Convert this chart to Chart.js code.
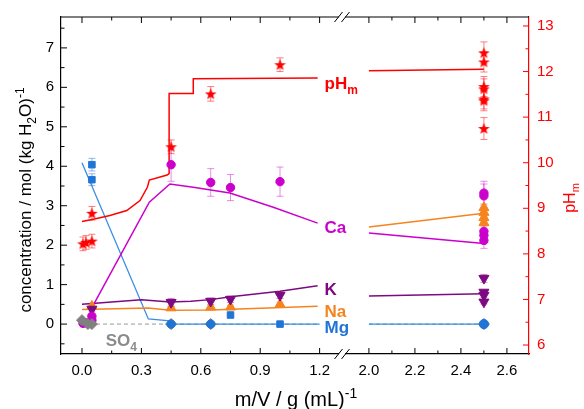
<!DOCTYPE html>
<html>
<head>
<meta charset="utf-8">
<script src="https://cdn.jsdelivr.net/npm/chart.js@4.4.0/dist/chart.umd.min.js"></script>
<style>
body { margin: 0; background: #fff; }
</style>
</head>
<body>
<canvas id="myChart" width="584" height="409"></canvas>
<script>
// tick labels
const xTicksLeft = [0.0, 0.3, 0.6, 0.9, 1.2];
const xTicksRight = [2.0, 2.2, 2.4, 2.6];
const concTicks = [0, 1, 2, 3, 4, 5, 6, 7];
const phTicks = [6, 7, 8, 9, 10, 11, 12, 13];

// measured pH_m (right axis)
const phX = [0.005, 0.02, 0.05, 0.05, 0.45, 0.65, 1.0];
const phY = [8.22, 8.25, 8.28, 8.89, 10.35, 11.51, 12.15];
const phErr = [0.15, 0.15, 0.15, 0.15, 0.15, 0.16, 0.15];
const phX2 = [2.5, 2.5, 2.5, 2.5, 2.5, 2.5, 2.5];
const phY2 = [12.41, 12.21, 11.67, 11.62, 11.40, 11.36, 10.75];
const phErr2 = [0.24, 0.22, 0.22, 0.22, 0.22, 0.22, 0.24];

// measured concentrations
const mgX = [0.05, 0.05, 0.75, 1.0];
const mgY = [4.04, 3.66, 0.23, 0.0];
const mgErr = [0.16, 0.15, 0.02, 0.02];
const mgCircX = [0.45, 0.65];
const mgCircY = [0.0, 0.0];
const mgX2 = [2.5];
const mgY2 = [0.0];

const caX = [0.005, 0.02, 0.05, 0.05, 0.45, 0.65, 0.75, 1.0];
const caY = [0.02, 0.03, 0.1, 0.2, 4.04, 3.59, 3.46, 3.61];
const caErr = [0.02, 0.02, 0.03, 0.03, 0.42, 0.35, 0.33, 0.37];
const caX2 = [2.5, 2.5, 2.5, 2.5, 2.5];
const caY2 = [3.32, 3.25, 2.35, 2.25, 2.12];
const caErr2 = [0.3, 0.3, 0.15, 0.15, 0.2];

const naX = [0.05, 0.45, 0.65, 0.75, 1.0];
const naY = [0.45, 0.41, 0.43, 0.43, 0.5];
const naErr = [0.05, 0.05, 0.05, 0.05, 0.06];
const naX2 = [2.5, 2.5, 2.5, 2.5];
const naY2 = [2.95, 2.83, 2.7, 2.57];
const naErr2 = [0.1, 0.1, 0.1, 0.1];

const kX = [0.05, 0.45, 0.65, 0.75, 1.0];
const kY = [0.38, 0.55, 0.58, 0.63, 0.73];
const kErr = [0.05, 0.1, 0.08, 0.08, 0.08];
const kX2 = [2.5, 2.5, 2.5, 2.5];
const kY2 = [1.16, 0.81, 0.73, 0.56];
const kErr2 = [0.1, 0.05, 0.05, 0.05];

const so4X = [0.0, 0.03, 0.05, 0.45, 0.65];
const so4Y = [0.1, 0.0, 0.0, 0.0, 0.0];
const so4X2 = [2.5];
const so4Y2 = [0.0];

// model curves
const phModelX = [0.0, 0.057, 0.141, 0.226, 0.293, 0.33, 0.34, 0.43, 0.44, 0.44, 0.562, 0.562, 1.19];
const phModelY = [8.71, 8.76, 8.84, 8.95, 9.17, 9.46, 9.62, 9.73, 9.76, 11.52, 11.52, 11.84, 11.86];
const phModelX2 = [2.0, 2.5];
const phModelY2 = [12.02, 12.05];

const mgModelX = [0.0, 0.335, 0.445, 0.47, 1.2];
const mgModelY = [4.09, 0.13, 0.08, 0.0, 0.0];
const caModelX = [0.057, 0.34, 0.444, 0.562, 0.747, 0.966, 1.19];
const caModelY = [0.48, 3.09, 3.55, 3.47, 3.32, 2.96, 2.56];
const naModelX = [0.0, 0.335, 0.445, 0.65, 1.19];
const naModelY = [0.37, 0.41, 0.35, 0.36, 0.45];
const kModelX = [0.0, 0.3, 0.445, 0.55, 0.65, 0.75, 1.0, 1.19];
const kModelY = [0.5, 0.62, 0.56, 0.58, 0.62, 0.69, 0.83, 0.97];
const so4ModelX = [0.0, 1.2];
const so4ModelY = [0.0, 0.0];

const modelX2 = [2.0, 2.5];
const mgModelY2 = [0.0, 0.0];
const caModelY2 = [2.31, 2.04];
const naModelY2 = [2.46, 2.81];
const kModelY2 = [0.71, 0.77];
const so4ModelY2 = [0.0, 0.0];

const FONT = "'Liberation Sans', Arial, sans-serif";
const RED = '#ff0000';
const BLUE = '#1f74d6';
const MAGENTA = '#cc00cc';
const ORANGE = '#f5841f';
const PURPLE = '#7d0a80';
const GREY = '#808080';

function pts(xs, ys) {
    return xs.map((x, i) => ({ x: x, y: ys[i] }));
}

// filled five point star marker
const star = document.createElement('canvas');
star.width = 13;
star.height = 13;
(function () {
    const c = star.getContext('2d');
    c.fillStyle = RED;
    c.beginPath();
    for (let i = 0; i < 10; i++) {
        const r = i % 2 === 0 ? 6.1 : 2.5;
        const a = -Math.PI / 2 + i * Math.PI / 5;
        c.lineTo(6.5 + r * Math.cos(a), 6.9 + r * Math.sin(a));
    }
    c.closePath();
    c.fill();
})();

function markers(label, xs, ys, xAxis, yAxis, style, color, radius, extra) {
    return Object.assign({
        label: label,
        data: pts(xs, ys),
        xAxisID: xAxis,
        yAxisID: yAxis,
        showLine: false,
        pointStyle: style,
        pointRadius: radius,
        backgroundColor: color,
        borderColor: color,
        borderWidth: 1
    }, extra || {});
}

function curve(label, xs, ys, xAxis, yAxis, color, extra) {
    return Object.assign({
        label: label,
        data: pts(xs, ys),
        xAxisID: xAxis,
        yAxisID: yAxis,
        showLine: true,
        pointRadius: 0,
        borderColor: color,
        borderWidth: 1.5,
        tension: 0
    }, extra || {});
}

const datasets = [
    markers('pH', phX, phY, 'x1', 'y2', star, RED, 6, { errors: phErr, errColor: 'rgba(255,0,0,0.5)' }),
    markers('pH2', phX2, phY2, 'x2', 'y2', star, RED, 6, { errors: phErr2, errColor: 'rgba(255,0,0,0.5)' }),
    markers('Mg', mgX, mgY, 'x1', 'y', 'rect', BLUE, 4.6, { errors: mgErr, errColor: 'rgba(31,116,214,0.5)' }),
    markers('Mg circ', mgCircX, mgCircY, 'x1', 'y', 'circle', BLUE, 4.2),
    markers('Mg2', mgX2, mgY2, 'x2', 'y', 'circle', BLUE, 4.6),
    markers('SO4', so4X, so4Y, 'x1', 'y', 'rectRot', GREY, 5.5),
    markers('SO4 2', so4X2, so4Y2, 'x2', 'y', 'rectRot', GREY, 5.5),
    markers('Ca', caX, caY, 'x1', 'y', 'circle', MAGENTA, 4.2, { errors: caErr, errColor: 'rgba(204,0,204,0.45)' }),
    markers('Ca2', caX2, caY2, 'x2', 'y', 'circle', MAGENTA, 4.2, { errors: caErr2, errColor: 'rgba(204,0,204,0.45)' }),
    markers('K', kX, kY, 'x1', 'y', 'triangle', PURPLE, 5.8, { rotation: 180, errors: kErr, errColor: 'rgba(125,10,128,0.45)' }),
    markers('K2', kX2, kY2, 'x2', 'y', 'triangle', PURPLE, 5.8, { rotation: 180, errors: kErr2, errColor: 'rgba(125,10,128,0.45)' }),
    markers('Na', naX, naY, 'x1', 'y', 'triangle', ORANGE, 5.8, { errors: naErr, errColor: 'rgba(245,132,31,0.45)' }),
    markers('Na2', naX2, naY2, 'x2', 'y', 'triangle', ORANGE, 5.8, { errors: naErr2, errColor: 'rgba(245,132,31,0.45)' }),
    curve('pH model', phModelX, phModelY, 'x1', 'y2', RED),
    curve('pH model 2', phModelX2, phModelY2, 'x2', 'y2', RED),
    curve('Ca model', caModelX, caModelY, 'x1', 'y', MAGENTA),
    curve('Ca model 2', modelX2, caModelY2, 'x2', 'y', MAGENTA),
    curve('K model', kModelX, kModelY, 'x1', 'y', PURPLE),
    curve('K model 2', modelX2, kModelY2, 'x2', 'y', PURPLE),
    curve('Na model', naModelX, naModelY, 'x1', 'y', ORANGE),
    curve('Na model 2', modelX2, naModelY2, 'x2', 'y', ORANGE),
    curve('Mg model', mgModelX, mgModelY, 'x1', 'y', '#3a8ee6', { borderWidth: 1.3 }),
    curve('Mg model 2', modelX2, mgModelY2, 'x2', 'y', '#3a8ee6', { borderWidth: 1.3 }),
    curve('SO4 model', so4ModelX, so4ModelY, 'x1', 'y', '#999999', { borderWidth: 1, borderDash: [4, 3] }),
    curve('SO4 model 2', modelX2, so4ModelY2, 'x2', 'y', '#999999', { borderWidth: 1, borderDash: [4, 3] })
];

// text with sub/superscripts: parts = [[text, 0 | -1 sub | 1 sup], ...]
function richText(ctx, parts, x, y, size, weight, align) {
    const fontFor = p => (weight || '') + ' ' + (p[1] === 0 ? size : Math.round(size * 0.68)) + 'px ' + FONT;
    let total = 0;
    parts.forEach(p => { ctx.font = fontFor(p); total += ctx.measureText(p[0]).width; });
    let cx = align === 'center' ? x - total / 2 : x;
    ctx.textAlign = 'left';
    ctx.textBaseline = 'alphabetic';
    parts.forEach(p => {
        ctx.font = fontFor(p);
        const dy = p[1] === -1 ? size * 0.28 : p[1] === 1 ? -size * 0.42 : 0;
        ctx.fillText(p[0], cx, y + dy);
        cx += ctx.measureText(p[0]).width;
    });
}

const decor = {
    id: 'decor',
    beforeDatasetsDraw(chart) {
        const ctx = chart.ctx;
        ctx.save();
        chart.data.datasets.forEach((ds, i) => {
            if (!ds.errors) return;
            const meta = chart.getDatasetMeta(i);
            const ys = chart.scales[ds.yAxisID];
            ctx.strokeStyle = ds.errColor;
            ctx.lineWidth = 1;
            meta.data.forEach((pt, j) => {
                const v = ds.data[j].y, e = ds.errors[j];
                const t = ys.getPixelForValue(v + e), b = ys.getPixelForValue(v - e);
                ctx.beginPath();
                ctx.moveTo(pt.x, t); ctx.lineTo(pt.x, b);
                ctx.moveTo(pt.x - 3.5, t); ctx.lineTo(pt.x + 3.5, t);
                ctx.moveTo(pt.x - 3.5, b); ctx.lineTo(pt.x + 3.5, b);
                ctx.stroke();
            });
        });
        ctx.restore();
    },
    afterDraw(chart) {
        const ctx = chart.ctx;
        const ca = chart.chartArea;
        const s = chart.scales;
        ctx.save();

        // top frame line
        ctx.strokeStyle = '#000';
        ctx.lineWidth = 1.2;
        ctx.beginPath();
        ctx.moveTo(ca.left, ca.top); ctx.lineTo(ca.right, ca.top);
        ctx.stroke();

        // inward ticks
        function xTicks(scale, vals) {
            const minor = [];
            for (let i = 0; i < vals.length - 1; i++) minor.push((vals[i] + vals[i + 1]) / 2);
            ctx.beginPath();
            vals.forEach(v => {
                const p = scale.getPixelForValue(v);
                ctx.moveTo(p, ca.bottom); ctx.lineTo(p, ca.bottom - 6);
                ctx.moveTo(p, ca.top); ctx.lineTo(p, ca.top + 6);
            });
            minor.forEach(v => {
                const p = scale.getPixelForValue(v);
                ctx.moveTo(p, ca.bottom); ctx.lineTo(p, ca.bottom - 3.5);
                ctx.moveTo(p, ca.top); ctx.lineTo(p, ca.top + 3.5);
            });
            ctx.stroke();
        }
        function yTicks(scale, vals, edge, dir) {
            const minor = [vals[0] - 0.5];
            for (let i = 0; i < vals.length; i++) minor.push(vals[i] + 0.5);
            ctx.beginPath();
            vals.forEach(v => {
                const p = scale.getPixelForValue(v);
                ctx.moveTo(edge, p); ctx.lineTo(edge + dir * 6, p);
            });
            minor.forEach(v => {
                if (v < scale.min || v > scale.max) return;
                const p = scale.getPixelForValue(v);
                ctx.moveTo(edge, p); ctx.lineTo(edge + dir * 3.5, p);
            });
            ctx.stroke();
        }
        ctx.lineWidth = 1;
        ctx.strokeStyle = '#000';
        xTicks(s.x1, xTicksLeft);
        xTicks(s.x2, xTicksRight);
        yTicks(s.y, concTicks, ca.left, 1);
        ctx.strokeStyle = RED;
        yTicks(s.y2, phTicks, ca.right, -1);

        // axis break marks
        const bx = s.x1.right;
        [ca.top, ca.bottom].forEach(yy => {
            ctx.fillStyle = '#fff';
            ctx.fillRect(bx - 3, yy - 2, 6, 4);
            ctx.strokeStyle = '#000';
            ctx.lineWidth = 1;
            ctx.beginPath();
            ctx.moveTo(bx - 7.5, yy + 5); ctx.lineTo(bx + 0.5, yy - 5);
            ctx.moveTo(bx - 0.5, yy + 5); ctx.lineTo(bx + 7.5, yy - 5);
            ctx.stroke();
        });

        // series labels
        const lx = s.x1.getPixelForValue(1.225);
        ctx.fillStyle = RED;
        richText(ctx, [['pH', 0], ['m', -1]], lx, s.y2.getPixelForValue(11.62), 17, 'bold');
        ctx.fillStyle = MAGENTA;
        richText(ctx, [['Ca', 0]], lx, s.y.getPixelForValue(2.3), 17, 'bold');
        ctx.fillStyle = PURPLE;
        richText(ctx, [['K', 0]], lx, s.y.getPixelForValue(0.73), 17, 'bold');
        ctx.fillStyle = ORANGE;
        richText(ctx, [['Na', 0]], lx, s.y.getPixelForValue(0.18), 17, 'bold');
        ctx.fillStyle = BLUE;
        richText(ctx, [['Mg', 0]], lx, s.y.getPixelForValue(-0.23), 17, 'bold');
        ctx.fillStyle = '#8c8c8c';
        richText(ctx, [['SO', 0], ['4', -1]], s.x1.getPixelForValue(0.12), s.y.getPixelForValue(-0.56), 17, 'bold');

        // axis titles
        ctx.fillStyle = '#000';
        richText(ctx, [['m/V / g (mL)', 0], ['-1', 1]], (ca.left + ca.right) / 2 + 1, 406, 20, '', 'center');

        ctx.save();
        ctx.translate(31, 200);
        ctx.rotate(-Math.PI / 2);
        richText(ctx, [['concentration / mol (kg H', 0], ['2', -1], ['O)', 0], ['-1', 1]], 0, 0, 17, '', 'center');
        ctx.restore();

        ctx.save();
        ctx.fillStyle = RED;
        ctx.translate(575, 198);
        ctx.rotate(-Math.PI / 2);
        richText(ctx, [['pH', 0], ['m', -1]], 0, 0, 16, '', 'center');
        ctx.restore();

        ctx.restore();
    }
};

function tickFont() {
    return { family: FONT, size: 15 };
}

const myChart = new Chart(document.getElementById('myChart'), {
    type: 'scatter',
    data: { datasets: datasets },
    options: {
        responsive: false,
        animation: false,
        devicePixelRatio: 1,
        layout: { padding: { top: 16, left: 0, right: 0, bottom: 0 } },
        plugins: { legend: { display: false }, tooltip: { enabled: false } },
        scales: {
            x1: {
                type: 'linear', position: 'bottom', stack: 'bx', stackWeight: 281,
                min: -0.106, max: 1.313,
                grid: { display: false, drawTicks: false },
                border: { color: '#000', width: 1.2 },
                ticks: { padding: 8, color: '#000', font: tickFont(), maxRotation: 0, autoSkip: false, callback: v => v.toFixed(1) },
                afterBuildTicks: sc => { sc.ticks = xTicksLeft.map(v => ({ value: v })); },
                afterFit: sc => { sc.height = 55; }
            },
            x2: {
                type: 'linear', position: 'bottom', stack: 'bx', stackWeight: 187,
                min: 1.883, max: 2.696,
                grid: { display: false, drawTicks: false },
                border: { color: '#000', width: 1.2 },
                ticks: { padding: 8, color: '#000', font: tickFont(), maxRotation: 0, autoSkip: false, callback: v => v.toFixed(1) },
                afterBuildTicks: sc => { sc.ticks = xTicksRight.map(v => ({ value: v })); },
                afterFit: sc => { sc.height = 55; }
            },
            y: {
                type: 'linear', position: 'left',
                min: -0.758, max: 7.783,
                grid: { display: false, drawTicks: false },
                border: { color: '#000', width: 1.2 },
                ticks: { padding: 7, color: '#000', font: tickFont(), callback: v => String(v) },
                afterBuildTicks: sc => { sc.ticks = concTicks.map(v => ({ value: v })); },
                afterFit: sc => { sc.width = 61; }
            },
            y2: {
                type: 'linear', position: 'right',
                min: 5.803, max: 13.197,
                grid: { display: false, drawTicks: false },
                border: { color: RED, width: 1.2 },
                ticks: { padding: 8, color: RED, font: tickFont(), callback: v => String(v) },
                afterBuildTicks: sc => { sc.ticks = phTicks.map(v => ({ value: v })); },
                afterFit: sc => { sc.width = 55; }
            }
        }
    },
    plugins: [decor]
});
</script>
</body>
</html>
